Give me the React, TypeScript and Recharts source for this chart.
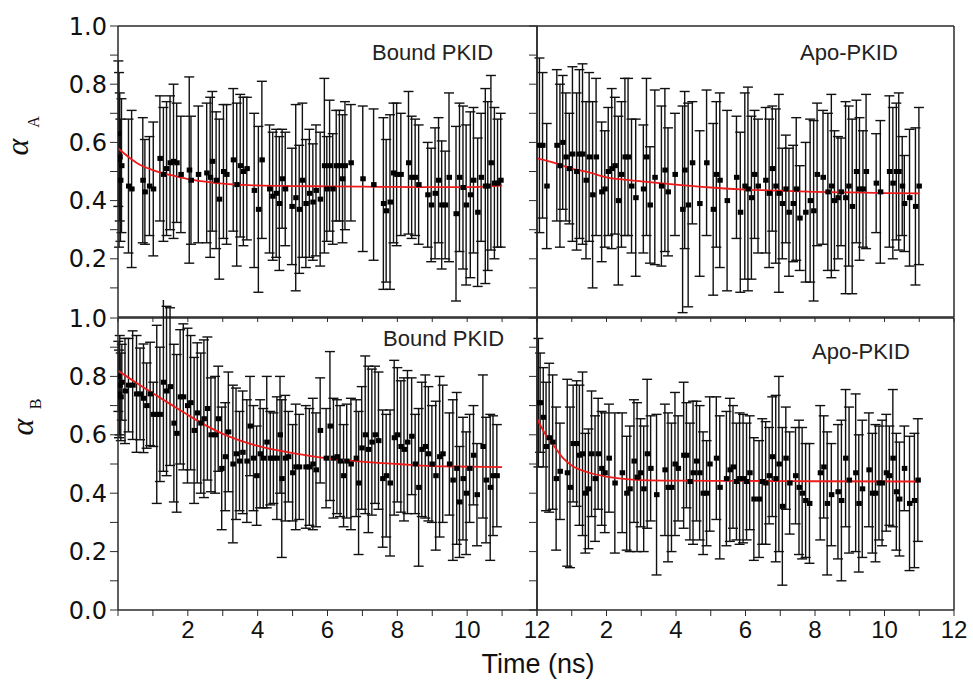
import { ComposedChart, ErrorBar, Line, ReferenceLine, Scatter, XAxis, YAxis } from 'recharts'

// [time (ns), alpha, error]
const boundA: [number, number, number][] = [
  [0.01, 0.63, 0.25], [0.03, 0.54, 0.3], [0.05, 0.55, 0.22], [0.07, 0.47, 0.21], [0.1, 0.52, 0.23],
  [0.3, 0.45, 0.23], [0.39, 0.44, 0.27], [0.71, 0.47, 0.215], [0.77, 0.43, 0.18], [0.9, 0.45, 0.17],
  [1.01, 0.44, 0.23], [1.2, 0.545, 0.215], [1.3, 0.49, 0.23], [1.39, 0.51, 0.23], [1.49, 0.53, 0.23],
  [1.59, 0.535, 0.265], [1.68, 0.53, 0.205], [1.8, 0.49, 0.2], [2.04, 0.505, 0.32], [2.09, 0.47, 0.22],
  [2.3, 0.49, 0.235], [2.54, 0.495, 0.24], [2.64, 0.48, 0.275], [2.7, 0.535, 0.24], [2.81, 0.47, 0.235],
  [2.9, 0.405, 0.275], [3.02, 0.5, 0.23], [3.11, 0.49, 0.24], [3.3, 0.54, 0.245], [3.4, 0.455, 0.28],
  [3.5, 0.52, 0.245], [3.59, 0.5, 0.255], [3.69, 0.51, 0.245], [3.9, 0.435, 0.265], [4.02, 0.37, 0.285],
  [4.12, 0.54, 0.27], [4.34, 0.44, 0.22], [4.43, 0.415, 0.22], [4.53, 0.425, 0.22], [4.62, 0.39, 0.23],
  [4.7, 0.475, 0.17], [4.79, 0.44, 0.195], [4.98, 0.38, 0.2], [5.09, 0.41, 0.32], [5.19, 0.37, 0.22],
  [5.28, 0.47, 0.265], [5.38, 0.39, 0.22], [5.48, 0.425, 0.22], [5.58, 0.395, 0.2], [5.67, 0.435, 0.225],
  [5.79, 0.405, 0.23], [5.91, 0.52, 0.3], [5.98, 0.44, 0.18], [6.06, 0.52, 0.225], [6.15, 0.44, 0.19],
  [6.25, 0.52, 0.19], [6.34, 0.52, 0.19], [6.43, 0.475, 0.22], [6.5, 0.52, 0.22], [6.67, 0.53, 0.2],
  [7.01, 0.475, 0.25], [7.32, 0.455, 0.26], [7.6, 0.39, 0.295], [7.68, 0.365, 0.245], [7.79, 0.395, 0.3],
  [7.89, 0.495, 0.24], [7.98, 0.49, 0.245], [8.1, 0.49, 0.21], [8.32, 0.53, 0.245], [8.41, 0.48, 0.21],
  [8.51, 0.48, 0.2], [8.61, 0.455, 0.205], [8.87, 0.42, 0.18], [8.97, 0.385, 0.195], [9.08, 0.425, 0.225],
  [9.18, 0.47, 0.215], [9.27, 0.385, 0.22], [9.37, 0.385, 0.185], [9.48, 0.48, 0.29], [9.68, 0.355, 0.3],
  [9.78, 0.48, 0.255], [9.88, 0.445, 0.28], [9.97, 0.385, 0.275], [10.09, 0.42, 0.285], [10.18, 0.47, 0.25],
  [10.3, 0.36, 0.255], [10.4, 0.48, 0.22], [10.52, 0.45, 0.335], [10.59, 0.45, 0.29], [10.68, 0.53, 0.3],
  [10.78, 0.46, 0.26], [10.87, 0.46, 0.22], [10.96, 0.47, 0.23],
]

const apoA: [number, number, number][] = [
  [0.07, 0.59, 0.3], [0.16, 0.59, 0.25], [0.28, 0.45, 0.215], [0.57, 0.59, 0.26], [0.66, 0.52, 0.28],
  [0.74, 0.6, 0.23], [0.83, 0.55, 0.22], [0.93, 0.51, 0.19], [1.02, 0.56, 0.3], [1.14, 0.5, 0.27],
  [1.22, 0.56, 0.29], [1.31, 0.56, 0.31], [1.41, 0.47, 0.27], [1.5, 0.55, 0.29], [1.6, 0.42, 0.32],
  [1.7, 0.55, 0.27], [1.86, 0.43, 0.24], [1.95, 0.44, 0.2], [2.05, 0.5, 0.22], [2.15, 0.51, 0.275],
  [2.24, 0.52, 0.235], [2.34, 0.4, 0.29], [2.43, 0.49, 0.25], [2.53, 0.55, 0.27], [2.62, 0.55, 0.27],
  [2.72, 0.45, 0.23], [2.84, 0.41, 0.27], [3.06, 0.44, 0.22], [3.15, 0.55, 0.27], [3.25, 0.385, 0.2],
  [3.39, 0.48, 0.3], [3.58, 0.45, 0.275], [3.68, 0.505, 0.28], [3.77, 0.43, 0.22], [3.97, 0.49, 0.21],
  [4.19, 0.37, 0.355], [4.25, 0.505, 0.27], [4.35, 0.385, 0.35], [4.47, 0.53, 0.21], [4.68, 0.39, 0.25],
  [4.88, 0.53, 0.25], [5.07, 0.37, 0.295], [5.16, 0.49, 0.25], [5.26, 0.47, 0.3], [5.47, 0.4, 0.31],
  [5.74, 0.48, 0.21], [5.85, 0.36, 0.275], [5.98, 0.45, 0.32], [6.07, 0.44, 0.35], [6.17, 0.41, 0.28],
  [6.26, 0.49, 0.22], [6.36, 0.45, 0.23], [6.58, 0.47, 0.25], [6.68, 0.425, 0.255], [6.77, 0.51, 0.215],
  [6.87, 0.45, 0.265], [6.96, 0.425, 0.34], [7.06, 0.39, 0.19], [7.16, 0.44, 0.185], [7.25, 0.36, 0.22],
  [7.37, 0.39, 0.2], [7.46, 0.44, 0.245], [7.56, 0.34, 0.18], [7.73, 0.36, 0.24], [7.86, 0.4, 0.28],
  [7.96, 0.365, 0.31], [8.06, 0.49, 0.245], [8.23, 0.48, 0.23], [8.37, 0.43, 0.27], [8.47, 0.45, 0.315],
  [8.56, 0.4, 0.24], [8.66, 0.41, 0.21], [8.75, 0.43, 0.185], [8.88, 0.41, 0.33], [8.97, 0.45, 0.275],
  [9.07, 0.38, 0.3], [9.19, 0.5, 0.245], [9.28, 0.44, 0.245], [9.38, 0.44, 0.2], [9.47, 0.5, 0.265],
  [9.76, 0.46, 0.17], [9.88, 0.43, 0.245], [10.14, 0.5, 0.26], [10.24, 0.46, 0.26], [10.34, 0.5, 0.235],
  [10.41, 0.5, 0.27], [10.51, 0.45, 0.17], [10.57, 0.39, 0.165], [10.72, 0.41, 0.235], [10.89, 0.38, 0.27],
  [10.99, 0.45, 0.27],
]

const boundB: [number, number, number][] = [
  [0.01, 0.8, 0.12], [0.03, 0.74, 0.15], [0.05, 0.77, 0.17], [0.08, 0.73, 0.15], [0.11, 0.78, 0.13],
  [0.2, 0.75, 0.18], [0.3, 0.77, 0.16], [0.42, 0.77, 0.186], [0.53, 0.74, 0.2], [0.63, 0.74, 0.157],
  [0.73, 0.725, 0.186], [0.82, 0.7, 0.146], [0.92, 0.74, 0.177], [1.01, 0.67, 0.11], [1.11, 0.67, 0.305],
  [1.2, 0.67, 0.23], [1.3, 0.78, 0.305], [1.39, 0.75, 0.29], [1.49, 0.765, 0.27], [1.6, 0.64, 0.27],
  [1.68, 0.605, 0.27], [1.78, 0.73, 0.23], [1.87, 0.73, 0.25], [1.99, 0.7, 0.265], [2.08, 0.71, 0.23],
  [2.18, 0.615, 0.25], [2.27, 0.675, 0.24], [2.37, 0.64, 0.24], [2.46, 0.655, 0.27], [2.56, 0.69, 0.245],
  [2.66, 0.6, 0.195], [2.78, 0.6, 0.2], [2.87, 0.655, 0.18], [2.97, 0.485, 0.21], [3.07, 0.525, 0.185],
  [3.16, 0.61, 0.205], [3.29, 0.5, 0.27], [3.38, 0.535, 0.225], [3.48, 0.51, 0.17], [3.57, 0.54, 0.21],
  [3.69, 0.51, 0.21], [3.78, 0.63, 0.17], [3.88, 0.52, 0.18], [3.97, 0.46, 0.17], [4.07, 0.535, 0.185],
  [4.16, 0.52, 0.17], [4.26, 0.575, 0.225], [4.36, 0.52, 0.16], [4.45, 0.52, 0.155], [4.55, 0.52, 0.21],
  [4.64, 0.6, 0.2], [4.69, 0.45, 0.27], [4.79, 0.52, 0.215], [4.88, 0.525, 0.155], [5.0, 0.47, 0.165],
  [5.09, 0.49, 0.215], [5.19, 0.49, 0.18], [5.38, 0.49, 0.21], [5.48, 0.49, 0.2], [5.58, 0.5, 0.225],
  [5.67, 0.48, 0.195], [5.79, 0.615, 0.18], [5.96, 0.52, 0.17], [6.07, 0.63, 0.255], [6.17, 0.52, 0.205],
  [6.27, 0.525, 0.195], [6.36, 0.51, 0.19], [6.46, 0.46, 0.175], [6.55, 0.51, 0.195], [6.67, 0.5, 0.225],
  [6.82, 0.52, 0.2], [6.89, 0.435, 0.245], [6.98, 0.555, 0.21], [7.08, 0.6, 0.27], [7.17, 0.55, 0.285],
  [7.27, 0.575, 0.25], [7.36, 0.6, 0.235], [7.46, 0.58, 0.235], [7.58, 0.45, 0.235], [7.68, 0.46, 0.21],
  [7.79, 0.435, 0.25], [7.91, 0.59, 0.265], [8.0, 0.6, 0.23], [8.1, 0.56, 0.225], [8.19, 0.55, 0.245],
  [8.29, 0.575, 0.245], [8.41, 0.595, 0.2], [8.51, 0.5, 0.17], [8.61, 0.42, 0.27], [8.7, 0.55, 0.23],
  [8.8, 0.56, 0.245], [8.89, 0.535, 0.23], [8.99, 0.5, 0.2], [9.1, 0.46, 0.255], [9.21, 0.525, 0.275],
  [9.3, 0.535, 0.235], [9.49, 0.5, 0.175], [9.59, 0.445, 0.275], [9.7, 0.485, 0.26], [9.78, 0.37, 0.19],
  [9.88, 0.45, 0.21], [9.97, 0.4, 0.21], [10.07, 0.485, 0.185], [10.18, 0.53, 0.17], [10.28, 0.395, 0.175],
  [10.45, 0.56, 0.245], [10.54, 0.445, 0.215], [10.66, 0.42, 0.25], [10.74, 0.46, 0.205], [10.85, 0.46, 0.175],
]

const apoB: [number, number, number][] = [
  [0.04, 0.71, 0.22], [0.09, 0.71, 0.17], [0.18, 0.66, 0.17], [0.26, 0.56, 0.22], [0.35, 0.59, 0.255],
  [0.45, 0.575, 0.23], [0.55, 0.45, 0.245], [0.66, 0.475, 0.165], [0.87, 0.47, 0.32], [0.95, 0.42, 0.275],
  [1.04, 0.57, 0.2], [1.14, 0.57, 0.215], [1.22, 0.53, 0.24], [1.31, 0.535, 0.28], [1.39, 0.4, 0.205],
  [1.48, 0.415, 0.205], [1.57, 0.535, 0.215], [1.67, 0.45, 0.215], [1.76, 0.535, 0.19], [1.86, 0.485, 0.195],
  [1.95, 0.47, 0.205], [2.07, 0.52, 0.185], [2.24, 0.435, 0.24], [2.45, 0.47, 0.205], [2.58, 0.4, 0.195],
  [2.67, 0.415, 0.215], [2.79, 0.51, 0.21], [2.88, 0.455, 0.255], [2.98, 0.47, 0.185], [3.07, 0.415, 0.215],
  [3.17, 0.535, 0.255], [3.27, 0.485, 0.18], [3.44, 0.395, 0.275], [3.68, 0.48, 0.225], [3.77, 0.42, 0.255],
  [3.87, 0.42, 0.22], [3.97, 0.5, 0.245], [4.06, 0.485, 0.18], [4.22, 0.53, 0.25], [4.3, 0.53, 0.18],
  [4.4, 0.44, 0.2], [4.49, 0.47, 0.245], [4.59, 0.51, 0.205], [4.68, 0.47, 0.23], [4.78, 0.4, 0.21],
  [4.88, 0.4, 0.18], [4.97, 0.5, 0.23], [5.16, 0.52, 0.21], [5.26, 0.42, 0.245], [5.45, 0.45, 0.23],
  [5.55, 0.48, 0.245], [5.64, 0.49, 0.21], [5.74, 0.44, 0.2], [5.83, 0.45, 0.225], [5.93, 0.45, 0.22],
  [6.03, 0.44, 0.2], [6.12, 0.47, 0.195], [6.24, 0.38, 0.21], [6.39, 0.38, 0.2], [6.48, 0.44, 0.215],
  [6.58, 0.435, 0.21], [6.68, 0.46, 0.165], [6.77, 0.525, 0.205], [6.87, 0.45, 0.285], [6.96, 0.5, 0.3],
  [7.06, 0.355, 0.27], [7.16, 0.52, 0.175], [7.27, 0.435, 0.175], [7.44, 0.46, 0.165], [7.54, 0.42, 0.23],
  [7.63, 0.4, 0.225], [7.73, 0.375, 0.195], [7.84, 0.365, 0.205], [8.15, 0.47, 0.23], [8.25, 0.49, 0.175],
  [8.35, 0.365, 0.245], [8.47, 0.395, 0.175], [8.66, 0.405, 0.23], [8.76, 0.375, 0.275], [8.88, 0.52, 0.235],
  [8.98, 0.445, 0.25], [9.17, 0.47, 0.27], [9.26, 0.365, 0.235], [9.36, 0.415, 0.235], [9.55, 0.48, 0.195],
  [9.65, 0.4, 0.205], [9.74, 0.4, 0.235], [9.84, 0.435, 0.195], [9.93, 0.435, 0.215], [10.05, 0.47, 0.2],
  [10.14, 0.46, 0.17], [10.24, 0.52, 0.235], [10.34, 0.405, 0.2], [10.43, 0.38, 0.195], [10.57, 0.485, 0.145],
  [10.72, 0.365, 0.23], [10.86, 0.375, 0.23], [10.96, 0.445, 0.21],
]

// fitted curves (red)
const boundAFit: [number, number][] = [
  [0, 0.58], [0.3, 0.55], [0.6, 0.525], [1, 0.505], [1.5, 0.488], [2, 0.474], [2.5, 0.465], [3, 0.458],
  [4, 0.452], [5, 0.45], [6, 0.449], [7, 0.448], [8, 0.447], [9, 0.446], [10, 0.446], [10.5, 0.448], [11, 0.452],
]
const apoAFit: [number, number][] = [
  [0, 0.545], [0.5, 0.53], [1, 0.51], [1.5, 0.497], [2, 0.48], [2.5, 0.472], [3, 0.466], [4, 0.455],
  [5, 0.445], [6, 0.438], [7, 0.434], [8, 0.43], [9, 0.428], [10, 0.426], [11, 0.425],
]
const boundBFit: [number, number][] = [
  [0, 0.82], [0.5, 0.78], [1, 0.742], [1.5, 0.705], [2, 0.668], [2.5, 0.633], [3, 0.603], [3.5, 0.58],
  [4, 0.562], [4.5, 0.548], [5, 0.537], [6, 0.519], [7, 0.508], [8, 0.5], [9, 0.493], [10, 0.491], [11, 0.489],
]
const apoBFit: [number, number][] = [
  [0, 0.655], [0.25, 0.6], [0.5, 0.56], [0.75, 0.52], [1, 0.495], [1.5, 0.47], [2, 0.457], [2.5, 0.449],
  [3, 0.445], [4, 0.443], [6, 0.442], [8, 0.441], [11, 0.44],
]

const xTicks = [0, 1, 2, 3, 4, 5, 6, 7, 8, 9, 10, 11, 12]
const xTickLabels = ['', '', '2', '', '4', '', '6', '', '8', '', '10', '', '12']
const yTicksTop = [0.1, 0.2, 0.3, 0.4, 0.5, 0.6, 0.7, 0.8, 0.9, 1.0]
const yTicksBottom = [0, 0.1, 0.2, 0.3, 0.4, 0.5, 0.6, 0.7, 0.8, 0.9, 1.0]

const AXIS = '#2a2a2a'
const RED = '#ee1b1b'

const toRows = (pts: [number, number, number][]) => pts.map(([t, v, e]) => ({ t, v, e }))
const toFit = (pts: [number, number][]) => pts.map(([t, v]) => ({ t, v }))

const fmtY = (v: number) => (Math.round(v * 10) % 2 === 0 ? v.toFixed(1) : '')

function Square(props: any) {
  const { cx, cy } = props
  if (cx == null || cy == null) return null
  return <rect x={cx - 2.5} y={cy - 2.5} width={5.5} height={5} fill="#000" />
}

type PanelProps = {
  left: number
  top: number
  width: number
  height: number
  marginTop: number
  yWidth: number
  xHeight: number
  points: [number, number, number][]
  fit: [number, number][]
  yTicks: number[]
  xLabels: boolean
  yLabels: boolean
}

function Panel(p: PanelProps) {
  return (
    <div style={{ position: 'absolute', left: p.left, top: p.top, width: p.width, height: p.height }}>
      <ComposedChart
        width={p.width}
        height={p.height}
        margin={{ top: p.marginTop, right: 30, bottom: 0, left: 0 }}
      >
        <XAxis
          dataKey="t"
          type="number"
          domain={[0, 12]}
          ticks={xTicks}
          interval={0}
          allowDataOverflow
          height={p.xHeight}
          tickSize={6}
          tickMargin={5}
          tickFormatter={(v: number) => (p.xLabels ? xTickLabels[xTicks.indexOf(v)] ?? '' : '')}
          tick={{ fontSize: 24, fill: '#111', fontFamily: '"Liberation Sans", Arial, sans-serif' }}
          axisLine={{ stroke: AXIS, strokeWidth: 1.5 }}
          tickLine={{ stroke: AXIS }}
        />
        <YAxis
          dataKey="v"
          type="number"
          domain={[0, 1]}
          ticks={p.yTicks}
          interval={0}
          allowDataOverflow
          width={p.yWidth}
          tickSize={8}
          tickMargin={3}
          tickFormatter={(v: number) => (p.yLabels ? fmtY(v) : '')}
          tick={{ fontSize: 24, fill: '#111', fontFamily: '"DejaVu Sans", Verdana, sans-serif' }}
          axisLine={{ stroke: AXIS, strokeWidth: 1.5 }}
          tickLine={{ stroke: AXIS }}
        />
        <ReferenceLine y={1} stroke={AXIS} strokeWidth={1.5} />
        <ReferenceLine x={12} stroke={AXIS} strokeWidth={1.5} />
        <Scatter data={toRows(p.points)} shape={Square} isAnimationActive={false}>
          <ErrorBar dataKey="e" direction="y" width={5} stroke="#111" strokeWidth={1.4} isAnimationActive={false} />
        </Scatter>
        <Line
          data={toFit(p.fit)}
          dataKey="v"
          type="monotone"
          stroke={RED}
          strokeWidth={1.8}
          dot={false}
          activeDot={false}
          isAnimationActive={false}
        />
      </ComposedChart>
    </div>
  )
}

const titleFont = { fontFamily: '"Liberation Sans", Arial, sans-serif', fontSize: 22, fill: '#222' }
const serif = '"Liberation Serif", "Times New Roman", serif'

export default function App() {
  return (
    <div
      style={{
        position: 'absolute',
        left: 0,
        top: 0,
        width: 973,
        height: 689,
        background: '#fff',
        overflow: 'hidden',
      }}
    >
      <Panel left={0} top={0} width={567} height={322} marginTop={26} yWidth={118} xHeight={5}
        points={boundA} fit={boundAFit} yTicks={yTicksTop} xLabels={false} yLabels />
      <Panel left={500} top={0} width={484} height={322} marginTop={26} yWidth={37} xHeight={5}
        points={apoA} fit={apoAFit} yTicks={yTicksTop} xLabels={false} yLabels={false} />
      <Panel left={0} top={300} width={567} height={355} marginTop={18} yWidth={118} xHeight={45}
        points={boundB} fit={boundBFit} yTicks={yTicksBottom} xLabels yLabels />
      <Panel left={500} top={300} width={484} height={355} marginTop={18} yWidth={37} xHeight={45}
        points={apoB} fit={apoBFit} yTicks={yTicksBottom} xLabels yLabels={false} />
      <svg width={973} height={689} style={{ position: 'absolute', left: 0, top: 0, pointerEvents: 'none' }}>
        <text x={372} y={60} {...titleFont}>Bound PKID</text>
        <text x={800} y={60} {...titleFont}>Apo-PKID</text>
        <text x={383} y={346} {...titleFont}>Bound PKID</text>
        <text x={812} y={359} {...titleFont}>Apo-PKID</text>
        <text x={538} y={673} textAnchor="middle" fontFamily='"Liberation Sans", Arial, sans-serif' fontSize={27} fill="#111">
          Time (ns)
        </text>
        <text x={28} y={147} transform="rotate(-90 28 147)" textAnchor="middle"
          fontFamily={serif} fontStyle="italic" fontSize={32} fill="#111">α</text>
        <text x={39} y={122} transform="rotate(-90 39 122)" textAnchor="middle"
          fontFamily={serif} fontSize={16} fill="#111">A</text>
        <text x={33} y={427} transform="rotate(-90 33 427)" textAnchor="middle"
          fontFamily={serif} fontStyle="italic" fontSize={32} fill="#111">α</text>
        <text x={41} y={404} transform="rotate(-90 41 404)" textAnchor="middle"
          fontFamily={serif} fontSize={16} fill="#111">B</text>
      </svg>
    </div>
  )
}
